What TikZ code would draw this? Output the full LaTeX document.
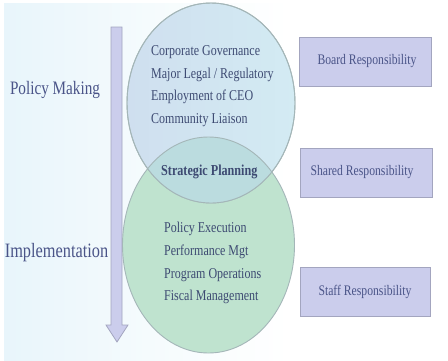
\documentclass[tikz,border=0pt]{standalone}
\usepackage{fontspec}
\setmainfont{Liberation Serif}[FakeStretch=0.8]
\usetikzlibrary{shapes.geometric}
\definecolor{ink}{HTML}{4A5488}
\definecolor{inkd}{HTML}{3D4A72}
\definecolor{boxf}{HTML}{CBCDEC}
\definecolor{boxe}{HTML}{A3A5BF}
\definecolor{bgl}{HTML}{E8F5FB}
\definecolor{bgm}{HTML}{F5FBFD}
\definecolor{topf}{HTML}{CFDFEF}
\definecolor{topl}{HTML}{D3EBF3}
\definecolor{botf}{HTML}{BFE3CF}
\definecolor{lensf}{HTML}{BBDCDF}
\definecolor{edgec}{HTML}{A4B6B8}
\tikzset{
 respbox/.style={draw=boxe,line width=1pt,fill=boxf,inner sep=0pt,text=ink,font=\fontsize{14.6}{14}\selectfont},
 bubble/.style={ellipse,draw=edgec,line width=.9pt,inner sep=0pt},
 listtxt/.style={anchor=west,inner sep=0pt,text=inkd,font=\fontsize{15}{15}\selectfont},
 sidetxt/.style={inner sep=0pt,text=ink}
}
\begin{document}
\begin{tikzpicture}[x=1pt,y=-1pt]
\useasboundingbox (0,0) rectangle (448,360);
\fill[white] (0,0) rectangle (448,360);
\shade[left color=bgl,right color=white,middle color=bgm] (4,3) rectangle (290,360);
% arrow
\draw[draw=boxe,fill=boxf,line width=.8pt] (111,27) -- (122,27) -- (122,325) -- (128,325) -- (117,342) -- (106,325) -- (111,325) -- cycle;
% bubbles
\node[bubble,fill=botf,minimum width=172pt,minimum height=216pt] (impl) at (208.5,245) {};
\node[bubble,left color=topf,right color=topl,minimum width=168pt,minimum height=200pt] (policy) at (211,103) {};
\begin{scope}
\clip (211,103) ellipse [x radius=84,y radius=100];
\fill[lensf] (208.5,245) ellipse [x radius=86,y radius=108];
\draw[edgec,line width=.9pt] (208.5,245) ellipse [x radius=86,y radius=108];
\end{scope}
\draw[edgec,line width=.9pt] (211,103) ellipse [x radius=84,y radius=100];
% side labels
\node[sidetxt,font=\fontsize{19}{19}\selectfont] (pm) at (55,90) {Policy Making};
\node[sidetxt,font=\fontsize{20.4}{20}\selectfont] (im) at (56.5,253) {Implementation};
% lists
\node[listtxt] (a1) at (151,52) {Corporate Governance};
\node[listtxt] (a2) at (151,75) {Major Legal / Regulatory};
\node[listtxt] (a3) at (151,97) {Employment of CEO};
\node[listtxt] (a4) at (151,120) {Community Liaison};
\node[listtxt,font=\fontsize{15.2}{15}\selectfont\bfseries] (sp) at (161,172) {Strategic Planning};
\node[listtxt] (b1) at (164,229) {Policy Execution};
\node[listtxt] (b2) at (164,252) {Performance Mgt};
\node[listtxt] (b3) at (164,275) {Program Operations};
\node[listtxt] (b4) at (164,297) {Fiscal Management};
% boxes
\node[respbox,minimum width=132pt,minimum height=49pt] (board) at (365,61.5) {\raisebox{3pt}{\hspace*{4pt}Board Responsibility}};
\node[respbox,minimum width=132pt,minimum height=49pt] (shared) at (366,172.5) {\raisebox{3pt}{Shared Responsibility\hspace*{8pt}}};
\node[respbox,minimum width=130pt,minimum height=49pt] (staff) at (365,291.5) {\raisebox{3pt}{Staff Responsibility}};
\end{tikzpicture}
\end{document}
